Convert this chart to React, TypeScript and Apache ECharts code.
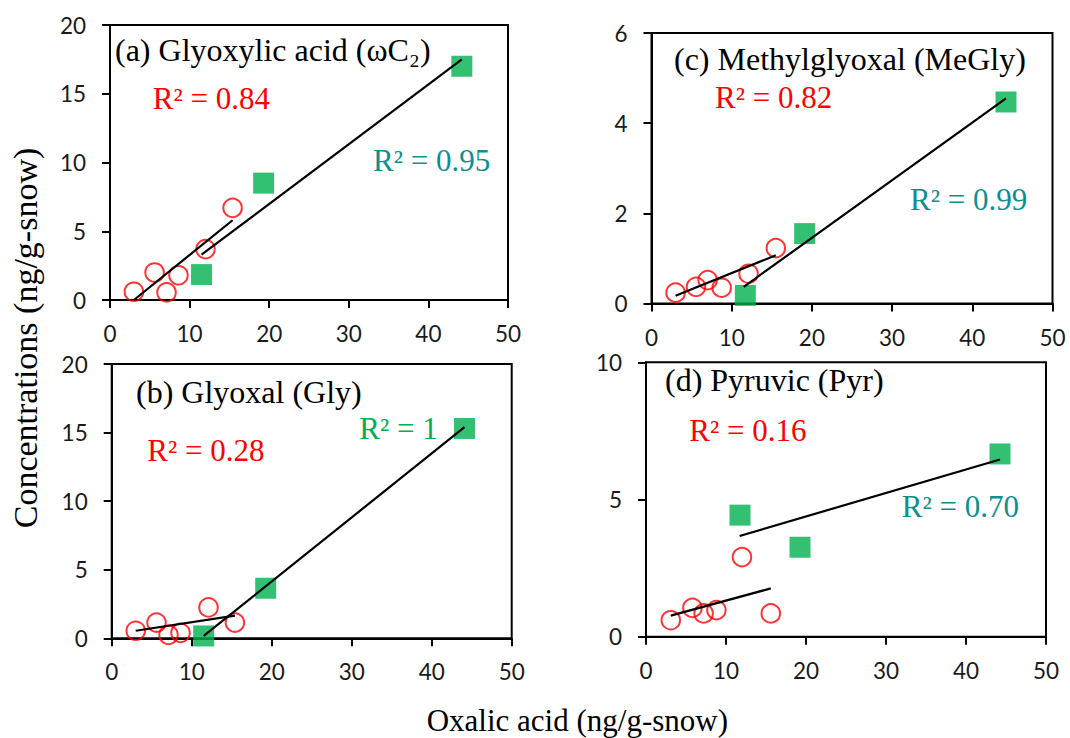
import React, { useEffect, useRef } from "react";
import * as echarts from "echarts";

// ---- data ----
const xTicks = [0, 10, 20, 30, 40, 50];

// (a) Glyoxylic acid
const redA: [number, number][] = [[3.0, 0.6], [5.6, 2.0], [7.1, 0.55], [8.6, 1.8], [12.0, 3.7], [15.4, 6.7]];
const greenA: [number, number][] = [[11.5, 1.85], [19.3, 8.5], [44.2, 17.0]];
const fitRedA: [number, number][] = [[3.0, 0.0], [15.4, 5.8]];
const fitGreenA: [number, number][] = [[11.5, 3.3], [44.2, 17.5]];

// (b) Glyoxal
const redB: [number, number][] = [[3.0, 0.55], [5.6, 1.15], [7.1, 0.25], [8.6, 0.4], [12.1, 2.25], [15.4, 1.15]];
const greenB: [number, number][] = [[11.5, 0.17], [19.25, 3.65], [44.1, 15.3]];
const fitRedB: [number, number][] = [[3.0, 0.55], [15.4, 1.65]];
const fitGreenB: [number, number][] = [[11.5, 0.17], [44.1, 15.4]];

// (c) Methylglyoxal
const redC: [number, number][] = [[3.0, 0.24], [5.55, 0.37], [7.0, 0.52], [8.75, 0.35], [12.1, 0.66], [15.5, 1.23]];
const greenC: [number, number][] = [[11.7, 0.18], [19.1, 1.55], [44.2, 4.47]];
const fitRedC: [number, number][] = [[3.0, 0.17], [15.5, 1.07]];
const fitGreenC: [number, number][] = [[11.5, 0.37], [44.2, 4.55]];

// (d) Pyruvic
const redD: [number, number][] = [[3.1, 0.6], [5.8, 1.05], [7.2, 0.85], [8.8, 0.97], [12.0, 2.9], [15.6, 0.85]];
const greenD: [number, number][] = [[11.75, 4.43], [19.25, 3.26], [44.25, 6.66]];
const fitRedD: [number, number][] = [[3.1, 0.77], [15.6, 1.76]];
const fitGreenD: [number, number][] = [[11.7, 3.67], [44.25, 6.46]];

const yRanges = [
  { max: 20, interval: 5 }, // a
  { max: 6, interval: 2 }, // c
  { max: 20, interval: 5 }, // b
  { max: 10, interval: 5 }, // d
];

const titles = ["(a) Glyoxylic acid (ωC₂)", "(c) Methylglyoxal (MeGly)", "(b) Glyoxal (Gly)", "(d) Pyruvic (Pyr)"];
const r2Red = ["R² = 0.84", "R² = 0.82", "R² = 0.28", "R² = 0.16"];
const r2Green = ["R² = 0.95", "R² = 0.99", "R² = 1", "R² = 0.70"];

const RED = "#FF0000";
const GREEN = "#00B050";
const TEAL = "#0E8F8F";
const SERIF = "'Liberation Serif', 'Times New Roman', serif";
const SANS = "Lato, 'Open Sans', sans-serif";

export default function App() {
  const ref = useRef<HTMLDivElement>(null);
  useEffect(() => {
    if (!ref.current) return;
    const chart = echarts.init(ref.current, null, { renderer: "svg" });

    const grids = [
      { left: 110, top: 25, width: 398, height: 275 },
      { left: 651.5, top: 33, width: 401, height: 270.5 },
      { left: 111.7, top: 364, width: 400, height: 274.3 },
      { left: 646, top: 362.3, width: 400, height: 274.4 },
    ];
    const panels = [
      { red: redA, green: greenA, fr: fitRedA, fg: fitGreenA },
      { red: redC, green: greenC, fr: fitRedC, fg: fitGreenC },
      { red: redB, green: greenB, fr: fitRedB, fg: fitGreenB },
      { red: redD, green: greenD, fr: fitRedD, fg: fitGreenD },
    ];

    const axisCommon = {
      type: "value" as const,
      axisLine: { show: true, lineStyle: { color: "#000", width: 2 } },
      axisTick: { show: true, inside: false, length: 8, lineStyle: { color: "#000", width: 2 } },
      splitLine: { show: false },
    };

    const xAxis = grids.map((_, i) => ({
      ...axisCommon,
      gridIndex: i,
      min: xTicks[0],
      max: xTicks[xTicks.length - 1],
      interval: 10,
      axisLabel: { margin: 22, fontFamily: SANS, fontSize: 22.5, color: "#1a1a1a" },
    }));
    const yAxis = grids.map((_, i) => ({
      ...axisCommon,
      gridIndex: i,
      min: 0,
      max: yRanges[i].max,
      interval: yRanges[i].interval,
      axisLabel: { margin: 24, fontFamily: SANS, fontSize: 22.5, color: "#1a1a1a" },
    }));

    const series: any[] = [];
    panels.forEach((p, i) => {
      series.push({
        type: "scatter",
        xAxisIndex: i,
        yAxisIndex: i,
        data: p.red,
        symbol: "circle",
        symbolSize: 18.5,
        itemStyle: { color: "rgba(0,0,0,0)", borderColor: RED, borderWidth: 2 },
        z: 2,
      });
      series.push({
        type: "scatter",
        xAxisIndex: i,
        yAxisIndex: i,
        data: p.green,
        symbol: "rect",
        symbolSize: 21,
        itemStyle: { color: GREEN },
        z: 2,
      });
      [p.fr, p.fg].forEach((d) => {
        series.push({
          type: "line",
          xAxisIndex: i,
          yAxisIndex: i,
          data: d,
          symbol: "none",
          lineStyle: { color: "#000", width: 2.2 },
          z: 3,
        });
      });
    });

    const txt = (text: string, x: number, y: number, color: string, size = 31) => ({
      type: "text",
      x,
      y,
      z: 10,
      style: { text, fill: color, font: `${size}px ${SERIF}`, textAlign: "left", textVerticalAlign: "middle" },
    });

    const titlePos = [
      [115, 50],
      [674, 59],
      [136, 392],
      [665, 380],
    ];
    const redPos = [
      [152.7, 98.3],
      [715, 97.3],
      [147.3, 450],
      [689.3, 430],
    ];
    const greenPos = [
      [373, 160],
      [910, 199.3],
      [359.3, 428.3],
      [901.7, 506.7],
    ];
    const greenColors = [TEAL, TEAL, GREEN, TEAL];

    const graphic: any[] = [];
    for (let i = 0; i < 4; i++) {
      graphic.push(txt(titles[i], titlePos[i][0], titlePos[i][1], "#000", 32));
      graphic.push(txt(r2Red[i], redPos[i][0], redPos[i][1], RED));
      graphic.push(txt(r2Green[i], greenPos[i][0], greenPos[i][1], greenColors[i]));
    }
    graphic.push(txt("Oxalic acid (ng/g-snow)", 426.7, 720.5, "#000", 31));
    graphic.push({
      type: "text",
      x: 25,
      y: 338,
      rotation: Math.PI / 2,
      z: 10,
      style: {
        text: "Concentrations (ng/g-snow)",
        fill: "#000",
        font: `34px ${SERIF}`,
        textAlign: "center",
        textVerticalAlign: "middle",
      },
    });

    chart.setOption({
      animation: false,
      backgroundColor: "#fff",
      grid: grids.map((g) => ({ ...g, show: true, borderColor: "#000", borderWidth: 2, backgroundColor: "transparent" })),
      xAxis,
      yAxis,
      series,
      graphic,
    });
    return () => chart.dispose();
  }, []);
  return <div ref={ref} style={{ position: "absolute", left: 0, top: 0, width: 1070, height: 738 }} />;
}
